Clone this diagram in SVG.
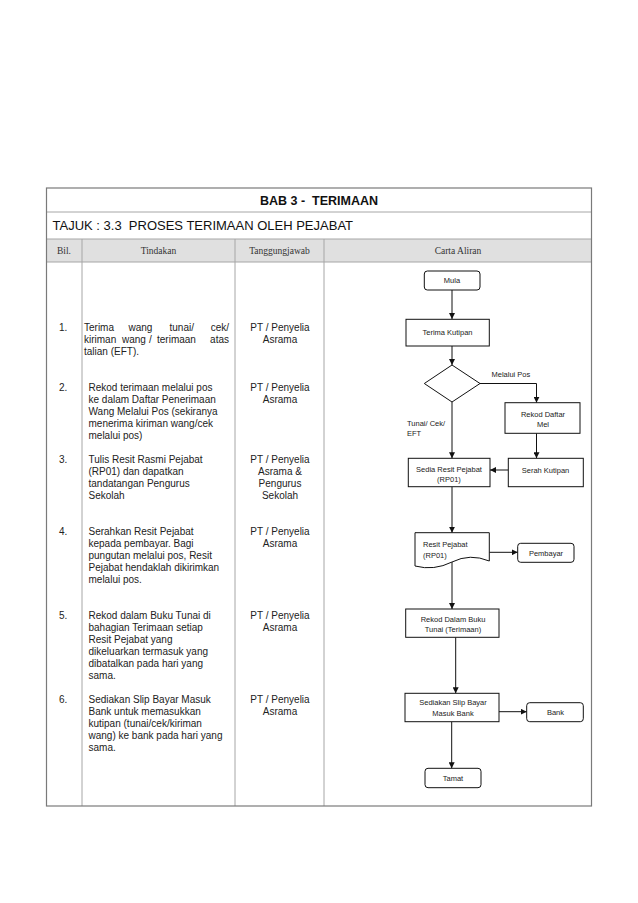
<svg xmlns="http://www.w3.org/2000/svg" width="638" height="903" viewBox="0 0 638 903">
<defs>
<style>
.outer{fill:none;stroke:#7a7a7a;stroke-width:1.2}
.grid{stroke:#a6a6a6;stroke-width:1;fill:none}
.hdr{fill:#e0e0e0}
.t{font-family:"Liberation Sans",Arial,sans-serif;font-size:10px;fill:#222}
.tc{font-family:"Liberation Sans",Arial,sans-serif;font-size:10px;fill:#222;text-anchor:middle}
.th{font-family:"Liberation Serif","Times New Roman",serif;font-size:9.5px;fill:#333;text-anchor:middle}
.box{fill:#fff;stroke:#111;stroke-width:1}
.fl{font-family:"Liberation Sans",Arial,sans-serif;font-size:7.5px;fill:#222;text-anchor:middle}
.fls{font-family:"Liberation Sans",Arial,sans-serif;font-size:7.5px;fill:#222}
.conn path{fill:none;stroke:#111;stroke-width:1;marker-end:url(#ah)}
</style>
<marker id="ah" markerWidth="6" markerHeight="6" refX="6" refY="3" orient="auto" markerUnits="userSpaceOnUse">
<path d="M0,0 L6,3 L0,6 z" fill="#111"/>
</marker>
</defs>
<rect width="638" height="903" fill="#fff"/>

<g id="table">
<rect class="hdr" x="46.5" y="239" width="545" height="23"/>
<line class="grid" x1="46.5" y1="212" x2="591.5" y2="212"/>
<line class="grid" x1="46.5" y1="239" x2="591.5" y2="239"/>
<line class="grid" x1="46.5" y1="262" x2="591.5" y2="262"/>
<line class="grid" x1="82" y1="239" x2="82" y2="806"/>
<line class="grid" x1="235" y1="239" x2="235" y2="806"/>
<line class="grid" x1="324" y1="239" x2="324" y2="806"/>
<rect class="outer" x="46.5" y="188" width="545" height="618"/>
<text x="319" y="205" text-anchor="middle" font-family="'Liberation Sans',Arial,sans-serif" font-size="12.5" font-weight="bold" fill="#111" xml:space="preserve">BAB 3 -  TERIMAAN</text>
<text x="52.5" y="229.5" font-family="'Liberation Sans',Arial,sans-serif" font-size="13" fill="#111" xml:space="preserve">TAJUK : 3.3  PROSES TERIMAAN OLEH PEJABAT</text>
<text class="th" x="64" y="254">Bil.</text>
<text class="th" x="158.5" y="254">Tindakan</text>
<text class="th" x="279.5" y="254">Tanggungjawab</text>
<text class="th" x="458" y="254">Carta Aliran</text>
</g>

<g id="row1">
<text class="t" x="59" y="331">1.</text>
<text class="t" x="84" y="331">Terima</text>
<text class="t" x="128.5" y="331">wang</text>
<text class="t" x="169.5" y="331">tunai/</text>
<text class="t" x="229" y="331" text-anchor="end">cek/</text>
<text class="t" x="84" y="343">kiriman</text>
<text class="t" x="122" y="343">wang</text>
<text class="t" x="149" y="343">/</text>
<text class="t" x="157" y="343">terimaan</text>
<text class="t" x="229" y="343" text-anchor="end">atas</text>
<text class="t" x="84" y="355">talian (EFT).</text>
<text class="tc" x="280" y="331">PT / Penyelia</text>
<text class="tc" x="280" y="343">Asrama</text>
</g>

<g id="row2">
<text class="t" x="59" y="391">2.</text>
<text class="t" x="88.5" y="391">Rekod terimaan melalui pos</text>
<text class="t" x="88.5" y="403">ke dalam Daftar Penerimaan</text>
<text class="t" x="88.5" y="415">Wang Melalui Pos (sekiranya</text>
<text class="t" x="88.5" y="427">menerima kiriman wang/cek</text>
<text class="t" x="88.5" y="439">melalui pos)</text>
<text class="tc" x="280" y="391">PT / Penyelia</text>
<text class="tc" x="280" y="403">Asrama</text>
</g>

<g id="row3">
<text class="t" x="59" y="462.5">3.</text>
<text class="t" x="88.5" y="462.5">Tulis Resit Rasmi Pejabat</text>
<text class="t" x="88.5" y="474.5">(RP01) dan dapatkan</text>
<text class="t" x="88.5" y="486.5">tandatangan Pengurus</text>
<text class="t" x="88.5" y="498.5">Sekolah</text>
<text class="tc" x="280" y="462.5">PT / Penyelia</text>
<text class="tc" x="280" y="474.5">Asrama &amp;</text>
<text class="tc" x="280" y="486.5">Pengurus</text>
<text class="tc" x="280" y="498.5">Sekolah</text>
</g>

<g id="row4">
<text class="t" x="59" y="535">4.</text>
<text class="t" x="88.5" y="535">Serahkan Resit Pejabat</text>
<text class="t" x="88.5" y="547">kepada pembayar. Bagi</text>
<text class="t" x="88.5" y="559">pungutan melalui pos, Resit</text>
<text class="t" x="88.5" y="571">Pejabat hendaklah dikirimkan</text>
<text class="t" x="88.5" y="583">melalui pos.</text>
<text class="tc" x="280" y="535">PT / Penyelia</text>
<text class="tc" x="280" y="547">Asrama</text>
</g>

<g id="row5">
<text class="t" x="59" y="619">5.</text>
<text class="t" x="88.5" y="619">Rekod dalam Buku Tunai di</text>
<text class="t" x="88.5" y="631">bahagian Terimaan setiap</text>
<text class="t" x="88.5" y="643">Resit Pejabat yang</text>
<text class="t" x="88.5" y="655">dikeluarkan termasuk yang</text>
<text class="t" x="88.5" y="667">dibatalkan pada hari yang</text>
<text class="t" x="88.5" y="679">sama.</text>
<text class="tc" x="280" y="619">PT / Penyelia</text>
<text class="tc" x="280" y="631">Asrama</text>
</g>

<g id="row6">
<text class="t" x="59" y="703">6.</text>
<text class="t" x="88.5" y="703">Sediakan Slip Bayar Masuk</text>
<text class="t" x="88.5" y="715">Bank untuk memasukkan</text>
<text class="t" x="88.5" y="727">kutipan (tunai/cek/kiriman</text>
<text class="t" x="88.5" y="739">wang) ke bank pada hari yang</text>
<text class="t" x="88.5" y="751">sama.</text>
<text class="tc" x="280" y="703">PT / Penyelia</text>
<text class="tc" x="280" y="715">Asrama</text>
</g>

<g class="conn" id="connectors">
<path d="M452,290 V319"/>
<path d="M452,346 V365"/>
<path d="M480,383.5 H536.5 V402.7"/>
<path d="M536.5,433.3 V458.3"/>
<path d="M508.3,470 H490"/>
<path d="M452,402 V458.3"/>
<path d="M452,486.7 V532.7"/>
<path d="M489.3,552.3 H517.7"/>
<path d="M452,562 V609"/>
<path d="M455.7,637.3 V693.3"/>
<path d="M499,711.7 H526.7"/>
<path d="M451.7,721.7 V768.3"/>
<text class="fls" x="491.5" y="377">Melalui Pos</text>
<text class="fls" x="407" y="425.5">Tunai/ Cek/</text>
<text class="fls" x="407" y="436">EFT</text>
</g>

<g id="mula">
<rect class="box" x="424.3" y="271" width="55.7" height="19" rx="3"/>
<text class="fl" x="452" y="283">Mula</text>
</g>
<g id="terima-kutipan">
<rect class="box" x="406" y="319.3" width="83.3" height="26.7"/>
<text class="fl" x="447.5" y="335">Terima Kutipan</text>
</g>
<g id="decision">
<path class="box" d="M452,365 L480,383.5 L452,402 L424.3,383.5 Z"/>
</g>
<g id="rekod-daftar-mel">
<rect class="box" x="505" y="402.7" width="75" height="30.6"/>
<text class="fl" x="543" y="417">Rekod Daftar</text>
<text class="fl" x="543" y="427">Mel</text>
</g>
<g id="serah-kutipan">
<rect class="box" x="508.3" y="458.3" width="75" height="28.4"/>
<text class="fl" x="545.5" y="472.5">Serah Kutipan</text>
</g>
<g id="sedia-resit">
<rect class="box" x="408.3" y="458.3" width="81.7" height="28.4"/>
<text class="fl" x="449" y="471.5">Sedia Resit Pejabat</text>
<text class="fl" x="449" y="482">(RP01)</text>
</g>
<g id="resit-pejabat">
<path class="box" d="M415,532.7 H489.3 V561 Q470,553 452,562 T415,566 Z"/>
<text class="fls" x="423" y="547">Resit Pejabat</text>
<text class="fls" x="423" y="558">(RP01)</text>
</g>
<g id="pembayar">
<rect class="box" x="517.7" y="543.3" width="56.3" height="19" rx="3"/>
<text class="fl" x="546" y="555.5">Pembayar</text>
</g>
<g id="rekod-buku-tunai">
<rect class="box" x="405.7" y="609" width="93.3" height="28.3"/>
<text class="fl" x="453" y="621.5">Rekod Dalam Buku</text>
<text class="fl" x="453" y="632">Tunai (Terimaan)</text>
</g>
<g id="sediakan-slip">
<rect class="box" x="405" y="693.3" width="94" height="28.4"/>
<text class="fl" x="453" y="705">Sediakan Slip Bayar</text>
<text class="fl" x="453" y="716">Masuk Bank</text>
</g>
<g id="bank">
<rect class="box" x="526.7" y="702.7" width="56.6" height="19" rx="3"/>
<text class="fl" x="555.5" y="714.7">Bank</text>
</g>
<g id="tamat">
<rect class="box" x="425" y="768.3" width="56" height="19.4" rx="3"/>
<text class="fl" x="453" y="780.7">Tamat</text>
</g>
</svg>
